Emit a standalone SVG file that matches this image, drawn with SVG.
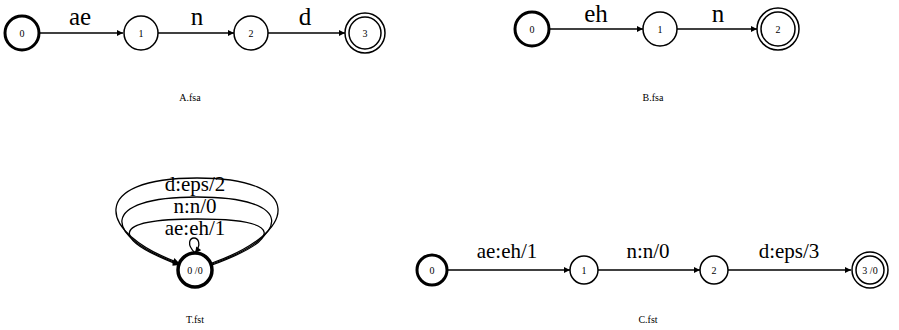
<svg xmlns="http://www.w3.org/2000/svg" width="899" height="330" viewBox="0 0 899 330" font-family="'Liberation Serif', 'DejaVu Serif', serif">
<defs>
<marker id="ah" viewBox="0 0 10 10" refX="10" refY="5" markerWidth="7" markerHeight="6" orient="auto" markerUnits="userSpaceOnUse">
<path d="M0,0 L10,5 L0,10 z" fill="#000"/>
</marker>
<style>
.n{fill:#fff;stroke:#000;stroke-width:1.5}
.s{fill:#fff;stroke:#000;stroke-width:3}
.t{fill:none;stroke:#000;stroke-width:3.5}
text{fill:#000;text-anchor:middle}
.nl{font-size:10px}
.el{font-size:25px}
.ec{font-size:21px}
.cap{font-size:10px}
.e{fill:none;stroke:#000;stroke-width:1.3}
</style>
</defs>
<rect width="899" height="330" fill="#fff"/>
<g id="connectors">
<line class="e" x1="39" y1="33" x2="123" y2="33" marker-end="url(#ah)"/>
<line class="e" x1="158" y1="33" x2="234" y2="33" marker-end="url(#ah)"/>
<line class="e" x1="268" y1="33" x2="345" y2="33" marker-end="url(#ah)"/>
<line class="e" x1="550" y1="29" x2="643" y2="29" marker-end="url(#ah)"/>
<line class="e" x1="677" y1="29" x2="757" y2="29" marker-end="url(#ah)"/>
<line class="e" x1="448" y1="270" x2="570" y2="270" marker-end="url(#ah)"/>
<line class="e" x1="598" y1="270" x2="700" y2="270" marker-end="url(#ah)"/>
<line class="e" x1="728" y1="270" x2="851" y2="270" marker-end="url(#ah)"/>
<path class="e" d="M212,263 C300,232 305,178 197,178 C89,178 95,232 179,263" marker-end="url(#ah)"/>
<path class="e" d="M212,264 C292,236 296,197 197,197 C98,197 102,236 179,264" marker-end="url(#ah)"/>
<path class="e" d="M212,265 C282,239 286,219 197,219 C108,219 112,239 179,265" marker-end="url(#ah)"/>
<path class="e" d="M195,253 C186,244 190,238 194,238 C198,238 202,244 195,253" marker-end="url(#ah)"/>
<text class="el" x="80" y="25">ae</text>
<text class="el" x="197" y="25">n</text>
<text class="el" x="305" y="25">d</text>
<text class="el" x="596" y="22">eh</text>
<text class="el" x="718" y="22">n</text>
<text class="ec" x="507" y="258">ae:eh/1</text>
<text class="ec" x="648" y="258">n:n/0</text>
<text class="ec" x="789" y="258">d:eps/3</text>
<text class="ec" x="195" y="191">d:eps/2</text>
<text class="ec" x="195" y="213">n:n/0</text>
<text class="ec" x="195" y="235">ae:eh/1</text>
</g>
<g id="A0"><circle class="s" cx="22" cy="33" r="17"/><text class="nl" x="22" y="37">0</text></g>
<g id="A1"><circle class="n" cx="141" cy="33" r="17"/><text class="nl" x="141" y="37">1</text></g>
<g id="A2"><circle class="n" cx="251" cy="33" r="17"/><text class="nl" x="251" y="37">2</text></g>
<g id="A3"><circle class="n" cx="365" cy="33" r="20"/><circle class="n" cx="365" cy="33" r="16"/><text class="nl" x="365" y="37">3</text></g>
<text class="cap" x="190" y="101">A.fsa</text>
<g id="B0"><circle class="s" cx="532" cy="29" r="17"/><text class="nl" x="532" y="33">0</text></g>
<g id="B1"><circle class="n" cx="660" cy="29" r="17"/><text class="nl" x="660" y="33">1</text></g>
<g id="B2"><circle class="n" cx="778" cy="29" r="21"/><circle class="n" cx="778" cy="29" r="17"/><text class="nl" x="778" y="33">2</text></g>
<text class="cap" x="653" y="101">B.fsa</text>
<g id="T0"><circle class="t" cx="195" cy="270" r="17"/><text class="nl" x="195" y="274">0 /0</text></g>
<text class="cap" x="195" y="323">T.fst</text>
<g id="C0"><circle class="s" cx="432" cy="270" r="15"/><text class="nl" x="432" y="274">0</text></g>
<g id="C1"><circle class="n" cx="584" cy="270" r="14"/><text class="nl" x="584" y="274">1</text></g>
<g id="C2"><circle class="n" cx="714" cy="270" r="14"/><text class="nl" x="714" y="274">2</text></g>
<g id="C3"><circle class="n" cx="870" cy="270" r="18"/><circle class="n" cx="870" cy="270" r="14"/><text class="nl" x="870" y="274">3 /0</text></g>
<text class="cap" x="648" y="323">C.fst</text>
</svg>
